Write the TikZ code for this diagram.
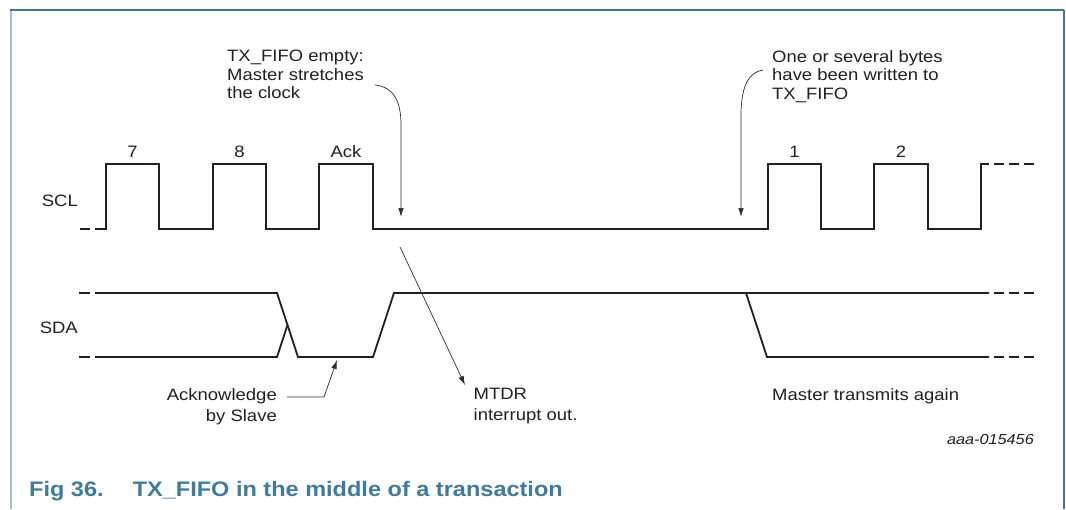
\documentclass[tikz,border=0pt]{standalone}
\usepackage{fontspec}
\setmainfont[FakeStretch=1.12]{Liberation Sans}
\usetikzlibrary{arrows.meta}
\usetikzlibrary{calc}
\definecolor{wavecol}{RGB}{35,31,32}
\definecolor{notecol}{RGB}{45,45,45}
\definecolor{framedark}{RGB}{59,122,150}
\definecolor{framelight}{RGB}{163,191,206}
\definecolor{captioncol}{RGB}{61,124,158}

\begin{document}
\begin{tikzpicture}[x=1pt,y=-1pt]
        \tikzset{wave/.style = {line width=1.8pt, color=wavecol}}
        \tikzset{wavedash/.style = {wave, dash pattern=on 10pt off 5pt}}
        \tikzset{note/.style = {->, > = {Latex[length=9pt, width=5.5pt]}, line width=0.7pt, color=notecol}}
        \tikzset{lbl/.style = {inner sep=0pt, text=wavecol, font=\fontsize{16.5}{18.5}\selectfont}}
        \tikzset{lbltwo/.style = {lbl, font=\fontsize{16.5}{21}\selectfont}}
        \useasboundingbox (0,0) rectangle (1066,509);

        % frame
        \draw[framelight, line width=2.5pt] (11,10) -- (11,509);
        \draw[framedark, line width=1.5pt] (10,10) -- (1064,10);
        \draw[framedark, line width=1.2pt] (1064,10) -- (1064,509);

        % signal names and bit numbers
        \node[lbl, anchor=base east] (scl) at (78,206) {SCL};
        \node[lbl, anchor=base east] (sda) at (78,333) {SDA};
        \node[lbl, anchor=base] (bit7) at (132.5,157) {7};
        \node[lbl, anchor=base] (bit8) at (239.5,157) {8};
        \node[lbl, anchor=base] (bitack) at (346,157) {Ack};
        \node[lbl, anchor=base] (bit1) at (794.5,157) {1};
        \node[lbl, anchor=base] (bit2) at (901,157) {2};

        % SCL
        \draw[wave] (80,229) -- (90,229);
        \draw[wave] (95,229) -- (106,229) -- (106,164) -- (159,164) -- (159,229)
            -- (213,229) -- (213,164) -- (266,164) -- (266,229)
            -- (319,229) -- (319,164) -- (373,164) -- (373,229)
            -- (768,229) -- (768,164) -- (821,164) -- (821,229)
            -- (874,229) -- (874,164) -- (928,164) -- (928,229)
            -- (981,229) -- (981,164) -- (989,164);
        \draw[wavedash] (994,164) -- (1034,164);

        % SDA
        \draw[wave] (79,293) -- (90,293);
        \draw[wave] (79,357) -- (90,357);
        \draw[wave] (95,293) -- (277,293) -- (298,357) -- (373,357) -- (394,293) -- (989,293);
        \draw[wave] (95,357) -- (277,357) -- (287.5,325);
        \draw[wave] (746,293) -- (767,357) -- (989,357);
        \draw[wavedash] (994,293) -- (1034,293);
        \draw[wavedash] (994,357) -- (1034,357);

        % notes
        \node[lbl, anchor=north west, align=left] (empty) at (227,50) {TX\_FIFO empty:\\Master stretches\\the clock};
        \node[lbl, anchor=north west, align=left] (written) at (772,50) {One or several bytes\\have been written to\\TX\_FIFO};
        \node[lbltwo, anchor=north east, align=right] (ack) at (277,388) {Acknowledge\\by Slave};
        \node[lbltwo, anchor=north west, align=left] (mtdr) at (473.5,388) {MTDR\\interrupt out.};
        \node[lbl, anchor=base west] (again) at (772,400) {Master transmits again};
        \node[lbl, anchor=base east, font=\fontsize{14.5}{16}\selectfont\itshape] (code) at (1034,444) {aaa-015456};

        \coordinate (emptytail) at (375,85);
        \coordinate (emptytip) at (401,217);
        \coordinate (writtentail) at (763,70);
        \coordinate (writtentip) at (741,217);
        \coordinate (mtdrtail) at (400,247);
        \coordinate (mtdrtip) at (465,385);
        \coordinate (acktail) at (287,397);
        \coordinate (acktip) at (337,360);

        \draw[note] (emptytail) .. controls (393,87) and (401,100) .. (401,125) -- (emptytip);
        \draw[note] (writtentail) .. controls (748,72) and (741,88) .. (741,115) -- (writtentip);
        \draw[note] (mtdrtail) -- (mtdrtip);
        \draw[note] (acktail) -- (324,397) -- (acktip);

        % caption
        \node[inner sep=0pt, anchor=base west, text=captioncol, font=\fontsize{21}{24}\selectfont\bfseries] (figno) at (29,496) {Fig 36.};
        \node[inner sep=0pt, anchor=base west, text=captioncol, font=\fontsize{21}{24}\selectfont\bfseries] (figtitle) at (132.6,496) {TX\_FIFO in the middle of a transaction};
\end{tikzpicture}
\end{document}
